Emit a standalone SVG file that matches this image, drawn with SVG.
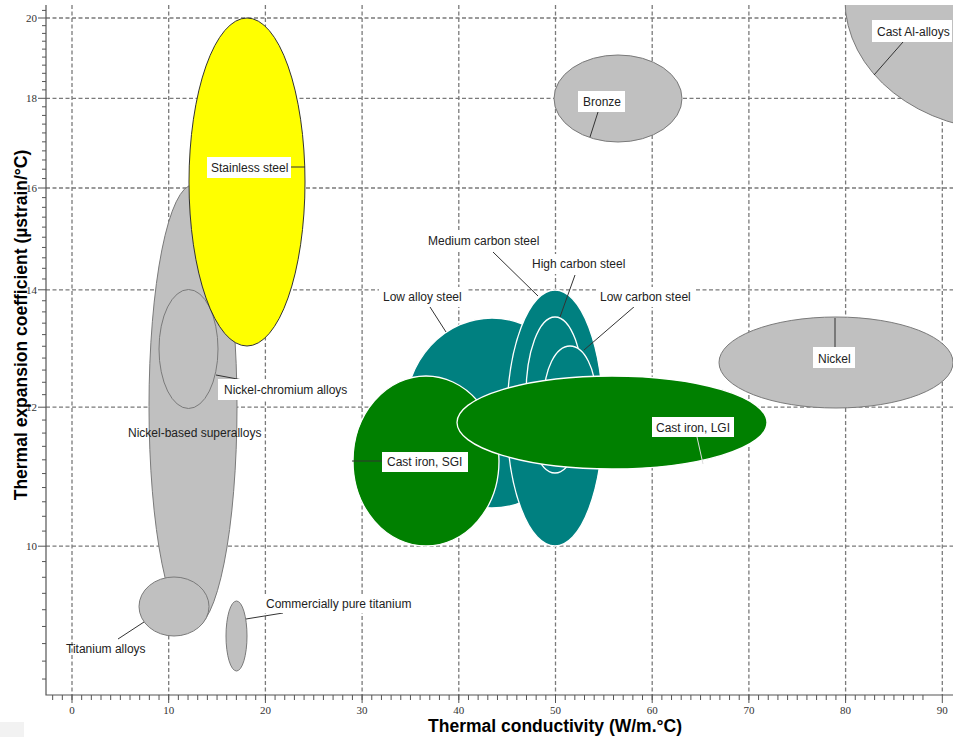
<svg xmlns="http://www.w3.org/2000/svg" width="953" height="737" viewBox="0 0 953 737">
<style>
.grid{stroke:#7a7a7a;stroke-width:1.3;stroke-dasharray:4 2.5;fill:none}
.axis{stroke:#555;stroke-width:1.2;fill:none}
.tick{stroke:#555;stroke-width:1;fill:none}
.tl{font-family:"Liberation Serif",serif;font-size:11px;fill:#333}
.title{font-family:"Liberation Sans",Arial,sans-serif;font-size:17.5px;font-weight:bold;fill:#000}
.gray{fill:#c0c0c0;stroke:#7a7a7a;stroke-width:1}
.yellow{fill:#ffff00;stroke:#333;stroke-width:1}
.teal{fill:#008080;stroke:#fff;stroke-width:1.3}
.green{fill:#008000;stroke:#fff;stroke-width:1.3}
.lbl{font-family:"Liberation Sans",Arial,sans-serif;font-size:12px;fill:#222}
.box{fill:#fff;stroke:none}
.lead{stroke:#333;stroke-width:1;fill:none}
</style>
<defs>
<clipPath id="plot"><rect x="46" y="5" width="907" height="690"/></clipPath>
</defs>
<rect width="953" height="737" fill="#fff"/>
<rect x="0" y="722" width="24" height="15" fill="#f2f2f2"/>
<g id="grid">
<line class="grid" x1="46" y1="18" x2="953" y2="18"/>
<line class="grid" x1="46" y1="98.3" x2="953" y2="98.3"/>
<line class="grid" x1="46" y1="188" x2="953" y2="188"/>
<line class="grid" x1="46" y1="289.8" x2="953" y2="289.8"/>
<line class="grid" x1="46" y1="407.2" x2="953" y2="407.2"/>
<line class="grid" x1="46" y1="546.2" x2="953" y2="546.2"/>
<line class="grid" x1="72" y1="5" x2="72" y2="695"/>
<line class="grid" x1="168.7" y1="5" x2="168.7" y2="695"/>
<line class="grid" x1="265.4" y1="5" x2="265.4" y2="695"/>
<line class="grid" x1="362.1" y1="5" x2="362.1" y2="695"/>
<line class="grid" x1="458.8" y1="5" x2="458.8" y2="695"/>
<line class="grid" x1="555.5" y1="5" x2="555.5" y2="695"/>
<line class="grid" x1="652.2" y1="5" x2="652.2" y2="695"/>
<line class="grid" x1="748.9" y1="5" x2="748.9" y2="695"/>
<line class="grid" x1="845.6" y1="5" x2="845.6" y2="695"/>
<line class="grid" x1="942.3" y1="5" x2="942.3" y2="695"/>
</g>
<g id="axes">
<path class="axis" d="M46,5V695H953"/>
<path class="tick" d="M42,679V679M42,679.04H46M42,661.11H46M42,643.59H46M42,626.46H46M42,609.72H46M42,593.33H46M42,577.29H46M42,561.57H46M42,531.09H46M42,516.29H46M42,501.78H46M42,487.54H46M42,473.55H46M42,459.82H46M42,446.34H46M42,433.08H46M42,420.06H46M42,394.66H46M42,382.27H46M42,370.07H46M42,358.07H46M42,346.26H46M42,334.62H46M42,323.17H46M42,311.88H46M42,300.76H46M42,278.98H46M42,268.32H46M42,257.81H46M42,247.44H46M42,237.22H46M42,227.12H46M42,217.16H46M42,207.33H46M42,197.62H46M42,178.57H46M42,169.22H46M42,159.98H46M42,150.86H46M42,141.84H46M42,132.93H46M42,124.12H46M42,115.41H46M42,106.8H46M42,89.87H46M42,81.54H46M42,73.3H46M42,65.15H46M42,57.09H46M42,49.11H46M42,41.21H46M42,33.4H46M42,25.66H46M42,10.42H46"/>
<path class="tick" d="M38,18H46M38,98.3H46M38,188H46M38,289.8H46M38,407.2H46M38,546.2H46"/>
<path class="tick" d="M52.66,695v5m9.67,-5v5m9.67,-5v5m9.67,-5v5m9.67,-5v5m9.67,-5v5m9.67,-5v5m9.67,-5v5m9.67,-5v5m9.67,-5v5m9.67,-5v5m9.67,-5v5m9.67,-5v5m9.67,-5v5m9.67,-5v5m9.67,-5v5m9.67,-5v5m9.67,-5v5m9.67,-5v5m9.67,-5v5m9.67,-5v5m9.67,-5v5m9.67,-5v5m9.67,-5v5m9.67,-5v5m9.67,-5v5m9.67,-5v5m9.67,-5v5m9.67,-5v5m9.67,-5v5m9.67,-5v5m9.67,-5v5m9.67,-5v5m9.67,-5v5m9.67,-5v5m9.67,-5v5m9.67,-5v5m9.67,-5v5m9.67,-5v5m9.67,-5v5m9.67,-5v5m9.67,-5v5m9.67,-5v5m9.67,-5v5m9.67,-5v5m9.67,-5v5m9.67,-5v5m9.67,-5v5m9.67,-5v5m9.67,-5v5m9.67,-5v5m9.67,-5v5m9.67,-5v5m9.67,-5v5m9.67,-5v5m9.67,-5v5m9.67,-5v5m9.67,-5v5m9.67,-5v5m9.67,-5v5m9.67,-5v5m9.67,-5v5m9.67,-5v5m9.67,-5v5m9.67,-5v5m9.67,-5v5m9.67,-5v5m9.67,-5v5m9.67,-5v5m9.67,-5v5m9.67,-5v5m9.67,-5v5m9.67,-5v5m9.67,-5v5m9.67,-5v5m9.67,-5v5m9.67,-5v5m9.67,-5v5m9.67,-5v5m9.67,-5v5m9.67,-5v5m9.67,-5v5m9.67,-5v5m9.67,-5v5m9.67,-5v5m9.67,-5v5m9.67,-5v5m9.67,-5v5m9.67,-5v5m9.67,-5v5m9.67,-5v5"/>
<path class="tick" d="M72,695v8M168.7,695v8M265.4,695v8M362.1,695v8M458.8,695v8M555.5,695v8M652.2,695v8M748.9,695v8M845.6,695v8M942.3,695v8"/>
<g class="tl" text-anchor="end">
<text x="37" y="22">20</text>
<text x="37" y="102">18</text>
<text x="37" y="192">16</text>
<text x="37" y="294">14</text>
<text x="37" y="411">12</text>
<text x="37" y="550">10</text>
</g>
<g class="tl" text-anchor="middle">
<text x="72" y="714">0</text>
<text x="168.7" y="714">10</text>
<text x="265.4" y="714">20</text>
<text x="362.1" y="714">30</text>
<text x="458.8" y="714">40</text>
<text x="555.5" y="714">50</text>
<text x="652.2" y="714">60</text>
<text x="748.9" y="714">70</text>
<text x="845.6" y="714">80</text>
<text x="942.3" y="714">90</text>
</g>
<text class="title" x="555" y="732" text-anchor="middle">Thermal conductivity (W/m.°C)</text>
<text class="title" x="27" y="325" text-anchor="middle" transform="rotate(-90 27 325)">Thermal expansion coefficient (µstrain/°C)</text>
</g>
<g id="n-superalloys"><ellipse class="gray" cx="193" cy="406.5" rx="44" ry="221.5"/></g>
<g id="n-nicr"><ellipse class="gray" cx="188.5" cy="349" rx="29.5" ry="59.5"/></g>
<g id="n-ti-alloys"><ellipse class="gray" cx="174" cy="606.5" rx="35" ry="29.5"/></g>
<g id="n-cp-ti"><ellipse class="gray" cx="236.5" cy="636" rx="10.5" ry="35"/></g>
<g id="n-stainless"><ellipse class="yellow" cx="247" cy="182" rx="58" ry="164"/></g>
<g id="n-bronze"><ellipse class="gray" cx="618" cy="98.5" rx="64" ry="43.5"/></g>
<g id="n-cast-al" clip-path="url(#plot)"><ellipse class="gray" cx="1010" cy="0" rx="165" ry="131"/></g>
<g id="n-nickel"><ellipse class="gray" cx="836" cy="362.5" rx="117" ry="45.5"/></g>
<g id="n-low-alloy"><ellipse class="teal" cx="492" cy="413" rx="87" ry="95"/></g>
<g id="n-medium-carbon"><ellipse class="teal" cx="555" cy="418" rx="48" ry="128"/></g>
<g id="n-high-carbon"><ellipse class="teal" cx="555" cy="395" rx="29" ry="78"/></g>
<g id="n-low-carbon"><ellipse class="teal" cx="570" cy="398" rx="26" ry="52"/></g>
<g id="n-sgi"><ellipse class="green" cx="426" cy="461" rx="73" ry="85"/></g>
<g id="n-lgi"><ellipse class="green" cx="612" cy="422.5" rx="155" ry="46.5"/></g>
<g id="connectors">
<line class="lead" x1="291" y1="167" x2="305" y2="167"/>
<line class="lead" x1="216" y1="375" x2="248" y2="381"/>
<line class="lead" x1="118" y1="639" x2="144" y2="622"/>
<line class="lead" x1="246" y1="619" x2="283" y2="613"/>
<line class="lead" x1="598" y1="112" x2="590" y2="137"/>
<line class="lead" x1="903" y1="42" x2="874" y2="75"/>
<line class="lead" x1="835" y1="318" x2="835" y2="347"/>
<line class="lead" x1="352" y1="461" x2="382" y2="461"/>
<line class="lead" x1="697" y1="437" x2="703" y2="464" style="stroke:#ddd"/>
<line class="lead" x1="493" y1="252" x2="538" y2="296"/>
<line class="lead" x1="575" y1="275" x2="560" y2="317"/>
<line class="lead" x1="635" y1="306" x2="584" y2="350"/>
<line class="lead" x1="430" y1="307" x2="446" y2="332"/>
</g>
<g id="labels">
<g id="l-stainless"><rect class="box" x="207" y="157" width="84" height="21"/><text class="lbl" x="211" y="172">Stainless steel</text></g>
<g id="l-nicr"><rect class="box" x="218" y="379" width="135" height="21"/><text class="lbl" x="224" y="394">Nickel-chromium alloys</text></g>
<g id="l-superalloys"><text class="lbl" x="128" y="437">Nickel-based superalloys</text></g>
<g id="l-ti-alloys"><text class="lbl" x="66" y="653">Titanium alloys</text></g>
<g id="l-cp-ti"><rect class="box" x="262" y="596" width="156" height="17"/><text class="lbl" x="266" y="608">Commercially pure titanium</text></g>
<g id="l-bronze"><rect class="box" x="578" y="91" width="47" height="21"/><text class="lbl" x="583" y="106">Bronze</text></g>
<g id="l-cast-al"><rect class="box" x="872" y="20" width="80" height="22"/><text class="lbl" x="877" y="36">Cast Al-alloys</text></g>
<g id="l-nickel"><rect class="box" x="813" y="347" width="42" height="21"/><text class="lbl" x="818" y="363">Nickel</text></g>
<g id="l-sgi"><rect class="box" x="382" y="452" width="86" height="20"/><text class="lbl" x="387" y="466">Cast iron, SGI</text></g>
<g id="l-lgi"><rect class="box" x="652" y="417" width="82" height="20"/><text class="lbl" x="656" y="432">Cast iron, LGI</text></g>
<g id="l-medium"><rect class="box" x="424" y="231" width="119" height="20"/><text class="lbl" x="428" y="245">Medium carbon steel</text></g>
<g id="l-high"><rect class="box" x="528" y="254" width="102" height="20"/><text class="lbl" x="532" y="268">High carbon steel</text></g>
<g id="l-low-carbon"><rect class="box" x="596" y="287" width="100" height="20"/><text class="lbl" x="600" y="301">Low carbon steel</text></g>
<g id="l-low-alloy"><rect class="box" x="379" y="287" width="89" height="20"/><text class="lbl" x="383" y="301">Low alloy steel</text></g>
</g>
</svg>
